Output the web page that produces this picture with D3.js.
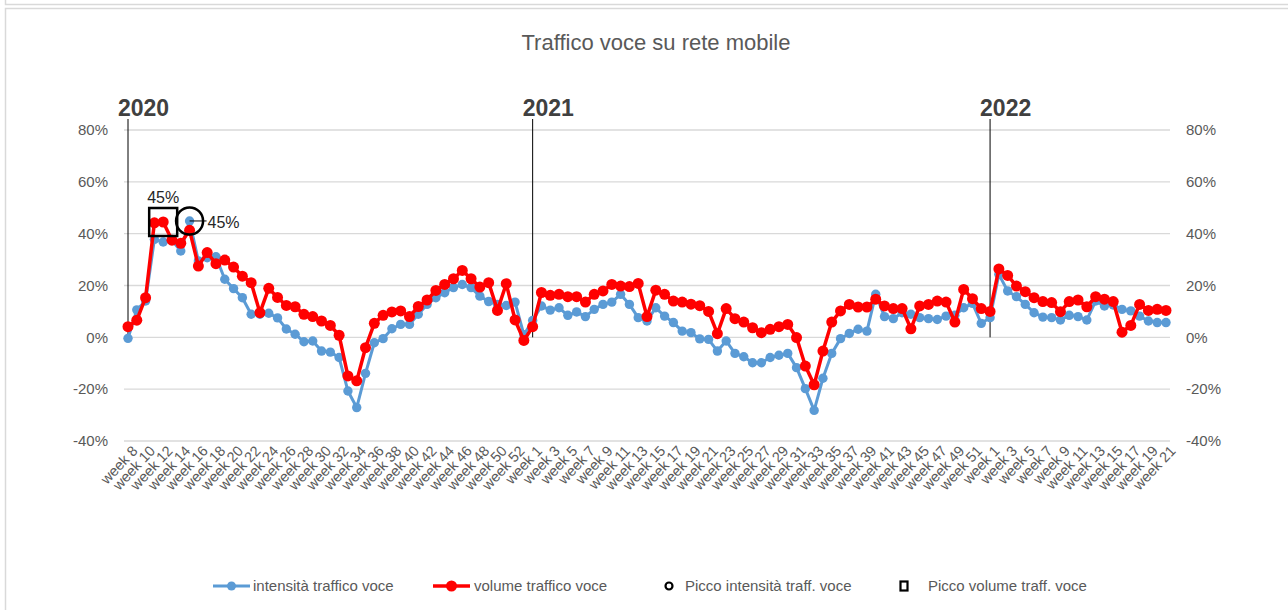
<!DOCTYPE html>
<html lang="it">
<head>
<meta charset="utf-8">
<title>Traffico voce su rete mobile</title>
<style>
  body { margin: 0; background: #fff; }
  svg { display: block; font-family: "Liberation Sans", Arial, sans-serif; }
  .grid line { stroke: #d9d9d9; stroke-width: 1.3; }
  .axis text { fill: #595959; font-size: 15px; }
  .xaxis text { fill: #595959; font-size: 14.5px; }
  .legend text { fill: #595959; font-size: 15px; }
</style>
<script src="https://d3js.org/d3.v7.min.js"></script>
</head>
<body>
<div id="chart"></div>
<script>
// week labels: 2020 runs week 8..53, 2021 week 1..52, 2022 week 1..21
var weeks = [].concat(d3.range(8, 54), d3.range(1, 53), d3.range(1, 22))
  .map(function(w) { return "week " + w; });

var years = ["2020", "2021", "2022"];
var yearStart = [0, 46, 98];   // index of first week of each year

var yTicks = [-40, -20, 0, 20, 40, 60, 80];

// intensità traffico voce (%)
var intensita = [
  -0.4, 10.6, 14, 37.8, 36.8, 37.4, 33.3, 44.9, 29.5, 30.7,
  31.1, 22.4, 18.8, 15.3, 8.9, 8.9, 9.3, 7.5, 3.2, 1.2,
  -1.7, -1.4, -5.3, -5.7, -7.8, -20.7, -27.1, -13.9, -2.1, -0.5,
  3.3, 5.0, 5.0, 8.9, 12.7, 15.3, 17.2, 19.2, 20.4, 19.2,
  15.9, 13.8, 12.7, 12.3, 13.6, 1.0,
  6.5, 12.1, 10.5, 11.4, 8.5, 9.8, 8.0, 10.8, 12.7, 13.6,
  16.6, 12.7, 7.6, 6.3, 11.4, 8.2, 5.7, 2.4, 1.8, -0.6,
  -0.8, -5.3, -1.4, -6.2, -7.5, -9.8, -9.8, -7.8, -6.9, -6.2,
  -11.7, -19.8, -28.2, -15.8, -6.2, -0.5, 1.5, 3.1, 2.4, 16.6,
  8.0, 7.2, 9.5, 8.9, 7.6, 7.2, 6.9, 8.2, 8.5, 11.4,
  13.1, 5.4,
  7.6, 24.3, 17.9, 15.7, 12.7, 9.5, 7.8, 7.6, 6.7, 8.5,
  8.0, 6.7, 14.0, 12.1, 12.5, 10.8, 10.2, 8.2, 6.3, 5.7,
  5.7
];

// volume traffico voce (%)
var volume = [
  4.1, 6.6, 15.3, 44.2, 44.5, 37.5, 36.3, 41.3, 27.5, 32.7,
  28.4, 29.8, 27.1, 23.6, 21.1, 9.5, 18.9, 15.4, 12.3, 11.8,
  8.9, 8.0, 6.3, 4.6, 0.8, -14.9, -16.8, -4.0, 5.4, 8.5,
  9.8, 10.2, 8.0, 11.9, 14.4, 18.1, 20.4, 22.6, 25.8, 22.6,
  19.4, 21.1, 10.4, 20.7, 6.7, -1.2,
  4.1, 17.3, 16.2, 16.6, 15.7, 15.7, 13.6, 16.6, 17.9, 20.4,
  19.8, 19.6, 20.8, 8.0, 18.2, 16.6, 14.0, 13.6, 12.8, 12.2,
  10.0, 1.4, 11.1, 7.2, 5.9, 3.7, 1.8, 3.1, 4.1, 5.0,
  -0.1, -11.1, -18.3, -5.3, 5.9, 10.2, 12.7, 11.7, 11.7, 14.7,
  12.1, 11.1, 11.1, 3.3, 12.1, 12.7, 14.0, 13.6, 5.9, 18.5,
  14.9, 11.1,
  10.0, 26.4, 23.9, 19.8, 17.6, 15.3, 13.8, 13.4, 9.9, 13.8,
  14.4, 11.8, 15.7, 14.7, 13.8, 2.0, 4.6, 12.7, 10.4, 10.8,
  10.4
];

var legendLabels = ["intensità traffico voce", "volume traffico voce",
                    "Picco intensità traff. voce", "Picco volume traff. voce"];

var width = 1288, height = 610;
var blue = "#5b9bd5", red = "#ff0000";

var svg = d3.select("#chart").append("svg")
  .attr("width", width).attr("height", height);

// frame lines like the spreadsheet screenshot
svg.append("path").attr("d", "M5.5,0 V4.5 H1288").attr("fill", "none").attr("stroke", "#d9d9d9").attr("stroke-width", 1.5);
svg.append("path").attr("d", "M1288,8.5 H5.5 V610").attr("fill", "none").attr("stroke", "#d9d9d9").attr("stroke-width", 1.5);

var x = d3.scaleLinear().domain([0, weeks.length - 1]).range([128, 1166]);
var y = d3.scaleLinear().domain([-40, 80]).range([441, 130]);

// title
svg.append("text")
  .attr("x", 656).attr("y", 50)
  .attr("text-anchor", "middle")
  .attr("fill", "#595959")
  .style("font-size", "22px")
  .text("Traffico voce su rete mobile");

// gridlines
svg.append("g").attr("class", "grid")
  .selectAll("line").data(yTicks).enter().append("line")
  .attr("x1", 124).attr("x2", 1170)
  .attr("y1", function(d) { return y(d); })
  .attr("y2", function(d) { return y(d); });

// left and right y axes
var yLeft = svg.append("g").attr("class", "axis")
  .attr("transform", "translate(111,0)")
  .call(d3.axisLeft(y).tickValues(yTicks).tickSize(0).tickFormat(function(d) { return d + "%"; }));
yLeft.select(".domain").remove();

var yRight = svg.append("g").attr("class", "axis")
  .attr("transform", "translate(1183,0)")
  .call(d3.axisRight(y).tickValues(yTicks).tickSize(0).tickFormat(function(d) { return d + "%"; }));
yRight.select(".domain").remove();

// x axis, every other week, rotated labels
var xAx = svg.append("g").attr("class", "xaxis")
  .attr("transform", "translate(0,446)")
  .call(d3.axisBottom(x)
    .tickValues(d3.range(0, weeks.length, 2))
    .tickSize(0)
    .tickFormat(function(i) { return weeks[i]; }));
xAx.select(".domain").remove();
xAx.selectAll("text")
  .attr("text-anchor", "end")
  .attr("dy", "0.35em")
  .attr("transform", "translate(4,0) rotate(-47)");

// year separators
svg.selectAll(".yearline").data(yearStart).enter().append("line")
  .attr("x1", function(d) { return x(d); }).attr("x2", function(d) { return x(d); })
  .attr("y1", 119).attr("y2", y(0))
  .attr("stroke", "#000").attr("stroke-width", 1);

svg.selectAll(".year").data(years).enter().append("text")
  .attr("x", function(d, i) { return x(yearStart[i]) - 10; })
  .attr("y", 116)
  .attr("fill", "#404040")
  .style("font-size", "23px").style("font-weight", "bold")
  .text(function(d) { return d; });

// series
function drawSeries(values, color, lw, r) {
  var line = d3.line()
    .x(function(d, i) { return x(i); })
    .y(function(d) { return y(d); });
  svg.append("path").datum(values)
    .attr("d", line).attr("fill", "none")
    .attr("stroke", color).attr("stroke-width", lw)
    .attr("stroke-linejoin", "round");
  svg.append("g").selectAll("circle").data(values).enter().append("circle")
    .attr("cx", function(d, i) { return x(i); })
    .attr("cy", function(d) { return y(d); })
    .attr("r", r).attr("fill", color);
}
drawSeries(intensita, blue, 3, 4.7);
drawSeries(volume, red, 3.5, 5.5);

// peaks
var pI = d3.maxIndex(intensita), pV = d3.maxIndex(volume);

svg.append("line")
  .attr("x1", x(pI)).attr("x2", x(pI) + 17)
  .attr("y1", y(intensita[pI])).attr("y2", y(intensita[pI]))
  .attr("stroke", "#000").attr("stroke-width", 1);
svg.append("circle")
  .attr("cx", x(pI)).attr("cy", y(intensita[pI]))
  .attr("r", 13.5).attr("fill", "none")
  .attr("stroke", "#000").attr("stroke-width", 2.5);
svg.append("text")
  .attr("x", x(pI) + 18).attr("y", y(intensita[pI]) + 7)
  .attr("fill", "#262626").style("font-size", "16px")
  .text(Math.round(intensita[pI]) + "%");

svg.append("rect")
  .attr("x", x(pV) - 14).attr("y", y(volume[pV]) - 14)
  .attr("width", 28).attr("height", 28)
  .attr("fill", "none").attr("stroke", "#000").attr("stroke-width", 2.5);
svg.append("text")
  .attr("x", x(pV)).attr("y", y(volume[pV]) - 19)
  .attr("text-anchor", "middle")
  .attr("fill", "#262626").style("font-size", "16px")
  .text(Math.round(volume[pV]) + "%");

// legend
var legend = svg.append("g").attr("class", "legend");
var lx = [213, 433, 669, 904];
var ly = 586;
[blue, red].forEach(function(c, i) {
  legend.append("line")
    .attr("x1", lx[i]).attr("x2", lx[i] + 37)
    .attr("y1", ly).attr("y2", ly)
    .attr("stroke", c).attr("stroke-width", i ? 3.5 : 3);
  legend.append("circle")
    .attr("cx", lx[i] + 18.5).attr("cy", ly)
    .attr("r", i ? 5.5 : 4.5).attr("fill", c);
});
legend.append("circle")
  .attr("cx", lx[2]).attr("cy", ly).attr("r", 3.5)
  .attr("fill", "none").attr("stroke", "#000").attr("stroke-width", 2.2);
legend.append("rect")
  .attr("x", lx[3] - 3.5).attr("y", ly - 4.5).attr("width", 7).attr("height", 9)
  .attr("fill", "none").attr("stroke", "#000").attr("stroke-width", 2.2);

var textX = [253, 474, 685, 928];
legend.selectAll("text").data(legendLabels).enter().append("text")
  .attr("x", function(d, i) { return textX[i]; })
  .attr("y", ly + 5)
  .text(function(d) { return d; });
</script>
</body>
</html>
